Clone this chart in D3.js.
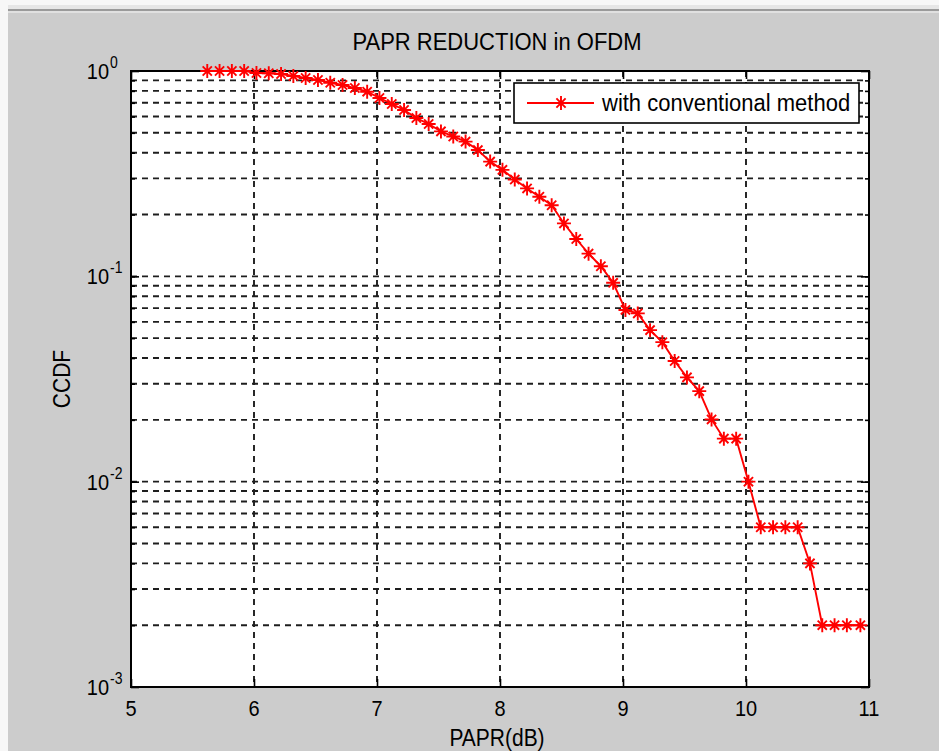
<!DOCTYPE html>
<html><head><meta charset="utf-8">
<script src="https://cdn.jsdelivr.net/npm/d3@7"></script>
<style>body{margin:0;background:#fff;overflow:hidden} text{font-family:"Liberation Sans",Arial,sans-serif;fill:#000}</style>
</head><body>
<svg id="c" width="939" height="751"></svg>
<script>
const papr = [5.62,5.72,5.82,5.92,6.02,6.12,6.22,6.32,6.42,6.52,6.62,6.72,6.82,6.92,7.02,7.12,7.22,7.32,7.42,7.52,7.62,7.72,7.82,7.92,8.02,8.12,8.22,8.32,8.42,8.52,8.62,8.72,8.82,8.92,9.02,9.12,9.22,9.32,9.42,9.52,9.62,9.72,9.82,9.92,10.02,10.12,10.22,10.32,10.42,10.52,10.62,10.72,10.82,10.93];
const ccdf = [1.0,1.0,1.0,1.0,0.978,0.975,0.967,0.945,0.925,0.904,0.877,0.855,0.826,0.793,0.739,0.691,0.646,0.59,0.552,0.508,0.48,0.453,0.412,0.362,0.33,0.296,0.268,0.244,0.222,0.181,0.152,0.129,0.112,0.093,0.0686,0.066,0.0547,0.0478,0.0387,0.0322,0.0276,0.0201,0.0162,0.0162,0.01,0.006,0.006,0.006,0.006,0.004,0.002,0.002,0.002,0.002];
const xTicks = [5,6,7,8,9,10,11];
const yDecades = [1e-3,1e-2,1e-1,1];
const yExponents = ["-3","-2","-1","0"];
const seriesName = "with conventional method";
const titleText = "PAPR REDUCTION in OFDM";
const xLabel = "PAPR(dB)";
const yLabel = "CCDF";

const W = 939, H = 751;
const L = 131, T = 71, R = 869, B = 687;
const svg = d3.select("#c");
const SY = 1.12; // vertical stretch of glyphs seen in the reference

// window / figure background
svg.append("rect").attr("width", W).attr("height", H).attr("fill", "#f7f7f7");
svg.append("rect").attr("x", 8).attr("y", 5).attr("width", W - 8).attr("height", 4).attr("fill", "#e6e6e6");
svg.append("rect").attr("x", 8).attr("y", 9).attr("width", W - 8).attr("height", 2).attr("fill", "#9a9a9a");
svg.append("rect").attr("x", 8).attr("y", 11).attr("width", W - 8).attr("height", 2).attr("fill", "#e0e0e0");
svg.append("rect").attr("x", 8).attr("y", 13).attr("width", W - 8).attr("height", H - 13).attr("fill", "#cccccc");

const x = d3.scaleLinear().domain([5, 11]).range([L, R]);
const y = d3.scaleLog().domain([1e-3, 1]).range([B, T]);

svg.append("rect").attr("x", L).attr("y", T).attr("width", R - L).attr("height", B - T).attr("fill", "#fff");

// grid
const gridDash = "6,5";
const g = svg.append("g");
const yAll = y.ticks().filter(v => v > 1.0001e-3 && v < 0.9999);
g.selectAll("line.hg").data(yAll).join("line")
  .attr("x1", L).attr("x2", R).attr("y1", d => y(d)).attr("y2", d => y(d))
  .attr("stroke", "#1e1e1e").attr("stroke-width", 1.9).attr("stroke-dasharray", gridDash);
g.selectAll("line.vg").data(xTicks.slice(1, -1)).join("line")
  .attr("y1", T).attr("y2", B).attr("x1", d => x(d)).attr("x2", d => x(d))
  .attr("stroke", "#1e1e1e").attr("stroke-width", 1.9).attr("stroke-dasharray", gridDash);

// axes with inward ticks
const fmtNone = () => "";
function styleAxis(sel) {
  sel.selectAll(".domain").remove();
  sel.selectAll(".tick line").attr("stroke", "#000").attr("stroke-width", 1.6);
  sel.selectAll(".tick text").remove();
}
svg.append("g").attr("transform", `translate(0,${B})`)
  .call(d3.axisBottom(x).tickValues(xTicks).tickSizeInner(-8).tickSizeOuter(0).tickFormat(fmtNone)).call(styleAxis);
svg.append("g").attr("transform", `translate(0,${T})`)
  .call(d3.axisTop(x).tickValues(xTicks).tickSizeInner(-8).tickSizeOuter(0).tickFormat(fmtNone)).call(styleAxis);
svg.append("g").attr("transform", `translate(${L},0)`)
  .call(d3.axisLeft(y).tickValues(yDecades).tickSizeInner(-8).tickSizeOuter(0).tickFormat(fmtNone)).call(styleAxis);
svg.append("g").attr("transform", `translate(${R},0)`)
  .call(d3.axisRight(y).tickValues(yDecades).tickSizeInner(-8).tickSizeOuter(0).tickFormat(fmtNone)).call(styleAxis);
svg.append("g").attr("transform", `translate(${L},0)`)
  .call(d3.axisLeft(y).tickValues(yAll).tickSizeInner(-4).tickSizeOuter(0).tickFormat(fmtNone)).call(styleAxis);
svg.append("g").attr("transform", `translate(${R},0)`)
  .call(d3.axisRight(y).tickValues(yAll).tickSizeInner(-4).tickSizeOuter(0).tickFormat(fmtNone)).call(styleAxis);

svg.append("rect").attr("x", L).attr("y", T).attr("width", R - L).attr("height", B - T)
  .attr("fill", "none").attr("stroke", "#000").attr("stroke-width", 2);

// stretched text helper
function txt(parent, tx, ty, s, size, anchor, rot) {
  return parent.append("text")
    .attr("transform", `translate(${tx},${ty})${rot ? ` rotate(${rot})` : ""} scale(1,${SY})`)
    .attr("text-anchor", anchor || "start").attr("font-size", size).text(s);
}

// tick labels
const fs = 20;
xTicks.forEach(d => txt(svg, x(d), B + 29, d, fs, "middle"));
yDecades.forEach((d, i) => {
  txt(svg, 109, y(d) + 8, "10", fs, "end");
  txt(svg, 110, y(d) - 3, yExponents[i], 14, "start");
});

// labels
txt(svg, 497, 50, titleText, 22, "middle");
txt(svg, 497, 746, xLabel, 21, "middle");
txt(svg, 70, (T + B) / 2, yLabel, 21, "middle", -90);

// data
const red = "#ff0000";
const pts = papr.map((p, i) => [p, ccdf[i]]);
const line = d3.line().x(d => x(d[0])).y(d => y(d[1]));
svg.append("path").datum(pts).attr("d", line).attr("fill", "none").attr("stroke", red).attr("stroke-width", 1.9);
const star = "M0,-7L0,7M-7,0L7,0M-4.6,-4.6L4.6,4.6M-4.6,4.6L4.6,-4.6";
svg.selectAll("path.mk").data(pts).join("path")
  .attr("transform", d => `translate(${x(d[0])},${y(d[1])})`)
  .attr("d", star).attr("fill", "none").attr("stroke", red).attr("stroke-width", 1.9);

// legend
const lg = svg.append("g");
lg.append("rect").attr("x", 514).attr("y", 83).attr("width", 345).attr("height", 40)
  .attr("fill", "#fff").attr("stroke", "#000").attr("stroke-width", 1.6);
lg.append("line").attr("x1", 527).attr("x2", 594).attr("y1", 103).attr("y2", 103).attr("stroke", red).attr("stroke-width", 1.8);
lg.append("path").attr("transform", "translate(561,103)").attr("d", star).attr("fill", "none").attr("stroke", red).attr("stroke-width", 1.9);
txt(lg, 602, 111, seriesName, 22, "start");
</script>
</body></html>
